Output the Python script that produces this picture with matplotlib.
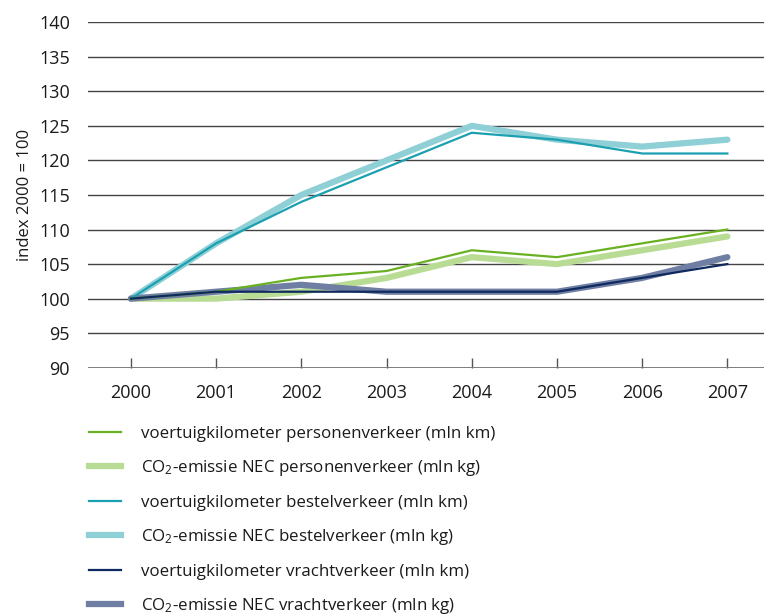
import matplotlib.pyplot as plt
from matplotlib.lines import Line2D

plt.rcParams['font.family'] = ['Open Sans', 'DejaVu Sans']
plt.rcParams['mathtext.fontset'] = 'custom'
plt.rcParams['mathtext.rm'] = 'Open Sans'
plt.rcParams['mathtext.it'] = 'Open Sans'

years = [2000, 2001, 2002, 2003, 2004, 2005, 2006, 2007]

km_personen = [100, 101, 103, 104, 107, 106, 108, 110]
co2_personen = [100, 100, 101, 103, 106, 105, 107, 109]
km_bestel = [100, 108, 114, 119, 124, 123, 121, 121]
co2_bestel = [100, 108, 115, 120, 125, 123, 122, 123]
km_vracht = [100, 101, 101, 101, 101, 101, 103, 105]
co2_vracht = [100, 101, 102, 101, 101, 101, 103, 106]

labels = [
    "voertuigkilometer personenverkeer (mln km)",
    "CO$_2$-emissie NEC personenverkeer (mln kg)",
    "voertuigkilometer bestelverkeer (mln km)",
    "CO$_2$-emissie NEC bestelverkeer (mln kg)",
    "voertuigkilometer vrachtverkeer (mln km)",
    "CO$_2$-emissie NEC vrachtverkeer (mln kg)",
]

green = "#6ab023"
lightgreen = "#b9dc95"
teal = "#1ba0b2"
lightteal = "#8fcfd6"
navy = "#0f2a5e"
slate = "#6f7ea3"
text_col = "#1a1a1a"

fig = plt.figure(figsize=(7.64, 6.16), dpi=100)
ax = fig.add_axes([0.115, 0.403, 0.885, 0.561])

# thick CO2 lines underneath, thin km lines on top
ax.plot(years, co2_bestel, color=lightteal, lw=4.5, solid_capstyle='round', zorder=2)
ax.plot(years, co2_personen, color=lightgreen, lw=4.5, solid_capstyle='round', zorder=2)
ax.plot(years, co2_vracht, color=slate, lw=4.5, solid_capstyle='round', zorder=2)
ax.plot(years, km_bestel, color=teal, lw=1.6, zorder=3)
ax.plot(years, km_personen, color=green, lw=1.6, zorder=3)
ax.plot(years, km_vracht, color=navy, lw=1.6, zorder=3)

ax.set_xlim(1999.495, 2007.43)
ax.set_ylim(90, 140)
ax.set_yticks(range(90, 141, 5))
ax.set_xticks(years)
ax.grid(axis='y', color='#444444', lw=1.0)
ax.set_axisbelow(True)
for s in ax.spines.values():
    s.set_visible(False)
ax.axhline(90, color='#777777', lw=1.3, zorder=1)
ax.tick_params(axis='y', length=0, pad=13, labelsize=13, colors=text_col)
ax.tick_params(axis='x', direction='in', length=7.5, width=1, color='#555555',
               pad=12, labelsize=13, labelcolor=text_col)
ax.set_ylabel("index 2000 = 100", fontsize=12, color=text_col, labelpad=4)

handles = [
    Line2D([], [], color=green, lw=1.6),
    Line2D([], [], color=lightgreen, lw=4.5),
    Line2D([], [], color=teal, lw=1.6),
    Line2D([], [], color=lightteal, lw=4.5),
    Line2D([], [], color=navy, lw=1.6),
    Line2D([], [], color=slate, lw=4.5),
]
fig.legend(handles, labels, loc='upper left', bbox_to_anchor=(0.108, 0.3195),
           frameon=False, fontsize=12.2, handlelength=1.87, handletextpad=1.16,
           labelspacing=0.97, labelcolor=text_col, borderaxespad=0)

fig.savefig("out.png", dpi=100)
